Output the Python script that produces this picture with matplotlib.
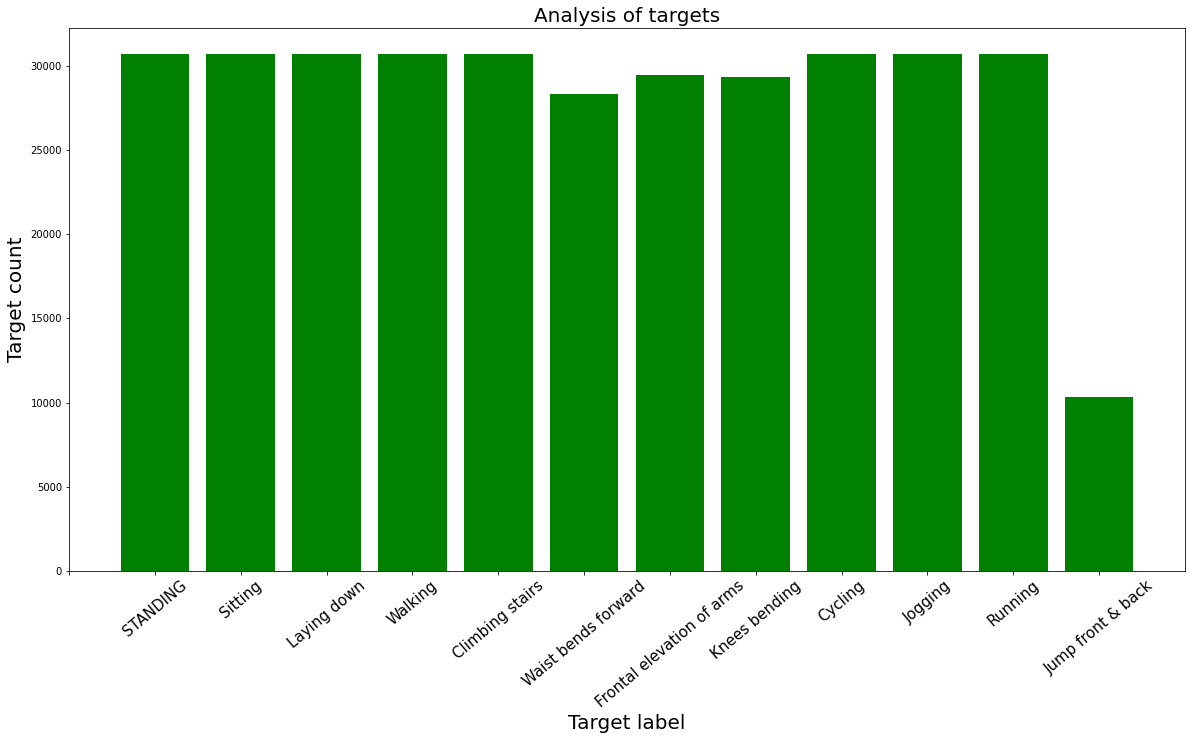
import matplotlib
matplotlib.use("Agg")
import matplotlib.pyplot as plt

labels = [
    "STANDING", "Sitting", "Laying down", "Walking", "Climbing stairs",
    "Waist bends forward", "Frontal elevation of arms", "Knees bending",
    "Cycling", "Jogging", "Running", "Jump front & back",
]
label_ids = list(range(1, 13))
counts = [30720, 30720, 30720, 30720, 30720, 28315, 29441, 29337, 30720, 30720, 30720, 10342]

fig = plt.figure(figsize=(1195 / 72, 742 / 72), dpi=72)
ax = fig.add_axes([69 / 1195, 1 - 571 / 742, (1185 - 69) / 1195, (571 - 28) / 742])

ax.bar(label_ids, counts, color="green", width=0.8)
ax.set_xlim(0, 13)
ax.set_xticks([0] + label_ids)
ax.set_xticklabels([""] + labels, rotation=40, fontsize=15)
ax.tick_params(axis="y", labelsize=10)
ax.set_xlabel("Target label", fontsize=20)
ax.set_ylabel("Target count", fontsize=20)
ax.set_title("Analysis of targets", fontsize=20)

fig.savefig("out.png", dpi=72)
